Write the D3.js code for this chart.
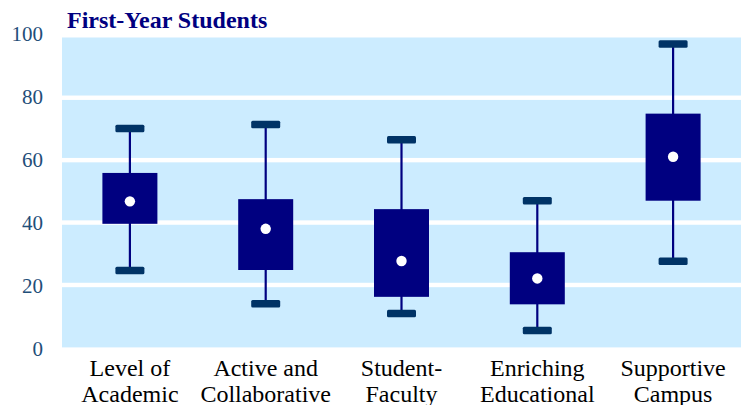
<!DOCTYPE html>
<html><head><meta charset="utf-8">
<script src="https://cdn.jsdelivr.net/npm/d3@7/dist/d3.min.js"></script>
<style>html,body{margin:0;padding:0;background:#fff;}svg{display:block;}
text{font-family:'Liberation Serif','Times New Roman','DejaVu Serif',serif;}</style>
</head><body>
<svg id="c" width="744" height="405"></svg>
<script>
const categories = [["Level of","Academic"],["Active and","Collaborative"],["Student-","Faculty"],["Enriching","Educational"],["Supportive","Campus"]];
const whiskerLow  = [24.6, 14.0, 10.9, 5.4, 27.6];
const boxLow      = [39.6, 24.8, 16.2, 13.8, 47.0];
const meanValues  = [46.8, 38.0, 27.7, 22.1, 61.1];
const boxHigh     = [55.9, 47.5, 44.3, 30.5, 74.9];
const whiskerHigh = [70.1, 71.4, 66.5, 47.0, 97.2];
const yTicks = [0, 20, 40, 60, 80, 100];
const title = "First-Year Students";

(function () {
const svg = d3.select("#c");
const plotLeft = 62, plotRight = 741, plotTop = 37.5;
const x = d3.scaleBand().domain(d3.range(categories.length)).range([plotLeft, plotRight]);
const y = d3.scaleLinear().domain([0, 100]).range([347.4, 35.3]);

svg.append("rect").attr("x", plotLeft).attr("y", plotTop).attr("width", plotRight - plotLeft).attr("height", y(0) - plotTop).attr("fill", "#CCECFF");

svg.append("g").selectAll("rect").data(yTicks.filter(d => d > 0 && d < 100)).join("rect")
  .attr("x", plotLeft).attr("width", plotRight - plotLeft).attr("y", d => y(d) - 2.2).attr("height", 4.4).attr("fill", "#fff");

// y tick labels
svg.append("g").selectAll("text").data(yTicks).join("text")
  .attr("x", 43).attr("y", d => y(d) + (50 - d) * 0.03).attr("dy", "0.35em")
  .attr("text-anchor", "end")
  .attr("font-size", 21).attr("fill", "#1F4E79").text(d => d);

const idx = d3.range(categories.length);
const cx = i => x(i) + x.bandwidth() / 2;
const boxW = 55, capW = 29, capH = 7.5;

const g = svg.append("g");
g.selectAll("line.w").data(idx).join("line")
  .attr("x1", cx).attr("x2", cx).attr("y1", i => y(whiskerLow[i])).attr("y2", i => y(whiskerHigh[i]))
  .attr("stroke", "#000080").attr("stroke-width", 2.2);
g.selectAll("rect.box").data(idx).join("rect")
  .attr("x", i => cx(i) - boxW / 2).attr("width", boxW)
  .attr("y", i => y(boxHigh[i])).attr("height", i => y(boxLow[i]) - y(boxHigh[i]))
  .attr("fill", "#000080");
[whiskerLow, whiskerHigh].forEach(arr => {
  g.append("g").selectAll("rect").data(idx).join("rect")
    .attr("x", i => cx(i) - capW / 2).attr("width", capW)
    .attr("y", i => y(arr[i]) - capH / 2).attr("height", capH)
    .attr("rx", 1.5).attr("fill", "#003366");
});
g.append("g").selectAll("circle").data(idx).join("circle")
  .attr("cx", cx).attr("cy", i => y(meanValues[i])).attr("r", 5.2).attr("fill", "#fff");

// category labels
const lab = svg.append("g").selectAll("text").data(idx).join("text")
  .attr("text-anchor", "middle")
  .attr("font-size", 24).attr("fill", "#000");
lab.each(function(i) {
  const t = d3.select(this);
  categories[i].forEach((line, k) => {
    t.append("tspan").attr("x", cx(i)).attr("y", 375.5 + k * 26.5).text(line);
  });
});

svg.append("text").attr("x", 67).attr("y", 27.7)
  .attr("font-weight", "bold")
  .attr("font-size", 24).attr("fill", "#000080").text(title);
})();
</script>
</body></html>
